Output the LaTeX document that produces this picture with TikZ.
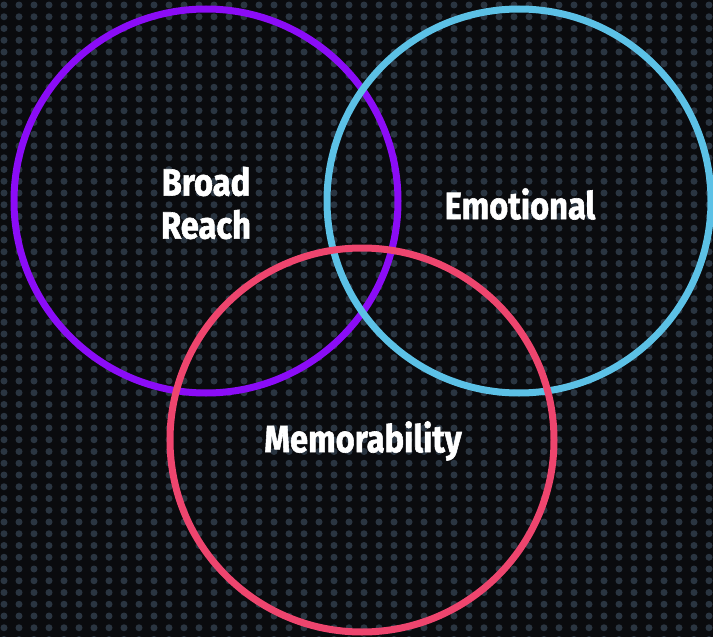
\documentclass[tikz,border=0pt]{standalone}
\usepackage{fontspec}
\setmainfont{Fira Sans}[BoldFeatures={FakeBold=1.6}]
\definecolor{bgdark}{HTML}{0A0B0E}
\definecolor{dotgrey}{HTML}{2A3541}
\definecolor{ringpurple}{HTML}{8B0CF7}
\definecolor{ringcyan}{HTML}{5CC1E6}
\definecolor{ringpink}{HTML}{EE456E}
\tikzset{
  ring/.style={line width=7pt},
  label/.style={text=white, font=\fontsize{38}{43}\selectfont\bfseries, align=center, inner sep=0pt},
}
\newcommand{\narrow}[1]{\scalebox{0.86}[1]{#1}}
\begin{document}
\begin{tikzpicture}[x=1pt,y=-1pt]
  % canvas
  \fill[bgdark] (0,0) rectangle (713,637);
  \useasboundingbox (0,0) rectangle (713,637);
  % dotted backdrop
  \foreach \i in {0,...,47}{
    \foreach \j in {0,...,54}{
      \fill[dotgrey] ({4+15*\i},{5+11.75*\j}) circle (3.5);
    }
  }
  % rings
  \draw[ring, ringpurple] (206,201) circle (192);
  \draw[ring, ringcyan] (519,201) circle (192);
  \draw[ring, ringpink] (362,440) circle (192);
  % labels
  \node[label] (reach) at (206,203) {\narrow{Broad}\\\narrow{Reach}};
  \node[label] (emotion) at (520,204) {\narrow{Emotional}};
  \node[label] (memory) at (363,441) {\narrow{Memorability}};
\end{tikzpicture}
\end{document}
